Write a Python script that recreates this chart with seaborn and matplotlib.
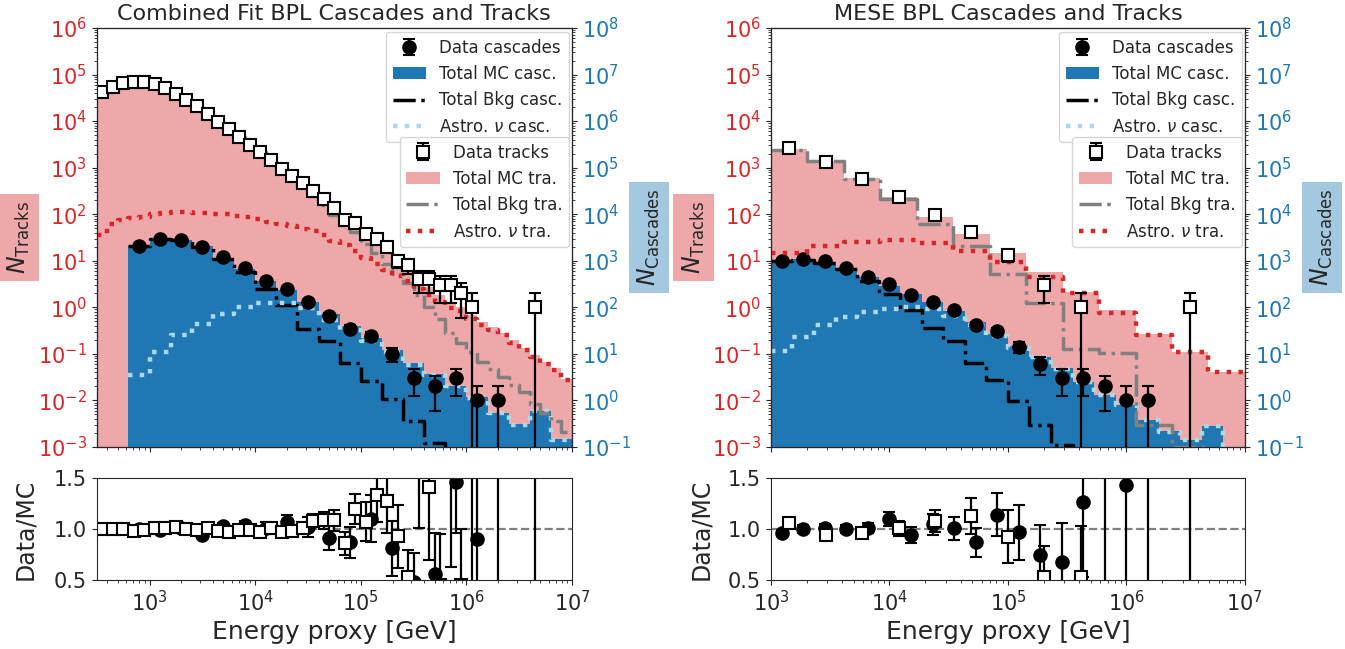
import numpy as np
import matplotlib
matplotlib.use('Agg')
import matplotlib.pyplot as plt
import seaborn as sns
from matplotlib.ticker import LogLocator, NullFormatter

sns.set_style('ticks')
plt.rcParams['font.family'] = ['DejaVu Sans']
plt.rcParams['mathtext.fontset'] = 'dejavusans'

nan = np.nan

# ---------------- values ----------------
# Left panel (combined fit): tracks in 0.1-decade bins 10^2.5..10^7,
# cascades in 0.2-decade bins 10^2.8..10^7
L_tr_edges = 10 ** np.linspace(2.5, 7.0, 46)
L_c_edges = 10 ** np.linspace(2.8, 7.0, 22)

L_tr_data = [41800, 53400, 64800, 70000, 70000, 62600, 50800, 39100, 28200, 21500,
             14100, 9660, 6660, 4580, 3100, 2140, 1460, 945, 660, 463,
             308, 212, 137, 74, 64, 37, 30, 20, 10, 8,
             4, 4, 3, 3, 2, 1, 0, 0, 0, 0,
             0, 1, 0, 0, 0]
L_tr_bkg = [41700, 53300, 64600, 71000, 71000, 61900, 50200, 38400, 28100, 21300,
            13800, 9620, 6720, 4560, 3040, 2120, 1390, 914, 617, 411,
            244, 158, 95, 64, 41, 23, 15, 8.7, 5.2, 3.3,
            1.8, 1.0, 0.55, 0.285, 0.175, 0.11, 0.067, 0.048, 0.032, 0.022,
            0.015, 0.0085, 0.0054, 0.0036, 0.0021]
L_tr_astro = [36, 63, 74, 81, 89, 99, 104, 109, 109, 106,
              104, 99, 99, 92, 89, 80, 69, 61, 56, 48,
              43, 36, 27, 22, 16, 11.5, 8.4, 6.2, 4.8, 3.6,
              2.5, 1.8, 1.3, 0.96, 0.84, 0.57, 0.42, 0.33, 0.25, 0.175,
              0.12, 0.084, 0.06, 0.045, 0.027]
L_tr_ratio = [1.00, 1.00, 1.00, 0.985, 0.99, 1.005, 1.005, 1.02, 1.00, 0.995,
              1.005, 0.985, 0.97, 0.99, 0.99, 0.97, 1.005, 0.97, 0.98, 1.005,
              1.08, 1.084, 1.084, 0.86, 1.195, 1.07, 1.33, 1.27, 0.93, 0.53,
              2.0, 1.41, 0.45, 1.9, 0.45, 1.6, nan, nan, nan, nan,
              nan, 5.0, nan, nan, nan]
L_tr_rerr = [0.01, 0.01, 0.01, 0.01, 0.01, 0.01, 0.01, 0.01, 0.01, 0.01,
             0.01, 0.012, 0.015, 0.015, 0.02, 0.025, 0.03, 0.035, 0.045, 0.05,
             0.065, 0.08, 0.10, 0.11, 0.15, 0.19, 0.26, 0.31, 0.31, 0.26,
             0.99, 0.71, 0.5, 1.27, 0.55, 1.6, 0, 0, 0, 0,
             0, 5.0, 0, 0, 0]

L_c_data = [2030, 2950, 2820, 1940, 1185, 695, 370, 248, 132, 66,
            35, 24, 10, 3, 2, 3, 1, 1, 0, 0, 0]
L_c_bkg = [2030, 2960, 2760, 2020, 1075, 564, 245, 110, 34.5, 18.8,
           6.5, 2.6, 1.06, 0.355, 0.125, 0.05, 0.02, 0.01, 0.005, 0.003, 0.001]
L_c_astro = [3.5, 11, 26, 43, 73, 103, 122, 122, 96, 54,
             33, 19.4, 11, 5.9, 3.6, 2.0, 1.14, 0.53, 0.30, 0.58, 0.145]
L_c_ratio = [1.00, 0.99, 1.01, 0.94, 1.03, 1.04, 1.01, 1.07, 1.02, 0.91,
             0.87, 1.10, 0.81, 0.48, 0.56, 1.46, 0.90, 2.0, nan, nan, nan]
L_c_rerr = [0.025, 0.02, 0.02, 0.025, 0.03, 0.04, 0.055, 0.07, 0.095, 0.12,
            0.15, 0.23, 0.27, 0.28, 0.40, 0.5, 0.9, 2.0, 0, 0, 0]

# Right panel (MESE): tracks in 13 bins, cascades in 22 bins, 10^3..10^7
R_tr_edges = 10 ** np.linspace(3.0, 7.0, 14)
R_c_edges = 10 ** np.linspace(3.0, 7.0, 23)

R_tr_data = [2600, 1315, 570, 238, 95, 42, 13, 3, 1, 0, 0, 1, 0]
R_tr_bkg = [2450, 1375, 567, 208, 63, 20.5, 5.1, 1.26, 0.13, 0.107, 0.003, 0.001, 0.0005]
R_tr_astro = [14.6, 20.8, 25.6, 28, 24.4, 16.5, 9.5, 4.5, 2.0, 0.75, 0.26, 0.11, 0.04]
R_tr_ratio = [1.054, 0.943, 0.96, 1.006, 1.076, 1.127, 0.924, 0.53, 0.53, nan, nan, 3.0, nan]
R_tr_rerr = [0.01, 0.02, 0.03, 0.07, 0.11, 0.18, 0.26, 0.30, 0.50, 0, 0, 2.95, 0]

R_c_data = [970, 1090, 970, 715, 458, 323, 180, 133, 86, 42, 31,
            14, 6, 3, 3, 2, 1, 1, 0, 0, 0, 0]
R_c_bkg = [1000, 1065, 915, 652, 370, 197, 89, 36, 19, 6.5, 2.7,
           0.97, 0.3, 0.11, 0.05, 0.025, 0.0126, 0.0063, 0.0032, 0.0016, 0.001, 0.0005]
R_c_astro = [11.5, 23, 42, 61, 79, 93, 100, 93, 65, 42, 24,
             13.6, 8.4, 4.8, 2.5, 1.3, 0.8, 0.38, 0.215, 0.14, 0.28, 0.08]
R_c_ratio = [0.96, 1.0, 1.01, 1.0, 1.01, 1.10, 0.94, 1.045, 1.006, 0.87, 1.14,
             0.97, 0.75, 0.68, 1.26, 1.6, 1.43, 2.6, nan, nan, nan, nan]
R_c_rerr = [0.03, 0.035, 0.035, 0.04, 0.05, 0.07, 0.075, 0.1, 0.11, 0.14, 0.21,
            0.27, 0.29, 0.38, 0.73, 1.13, 1.43, 2.6, 0, 0, 0, 0]

EB = dict(ecolor='k', elinewidth=1.6, capsize=4, capthick=1.6, mec='k', mew=1.5)


def step_line(ax, edges, vals, **kw):
    vals = np.asarray(vals, float)
    sns.lineplot(x=edges, y=np.append(vals, vals[-1]), drawstyle='steps-post',
                 estimator=None, legend=False, ax=ax, **kw)
    return ax.lines[-1]


def centers(edges):
    return np.sqrt(edges[:-1] * edges[1:])


def counts(v):
    v = np.asarray(v, float)
    v[v == 0] = nan
    return v


def log_ticks(axis):
    axis.set_major_locator(LogLocator(base=10, numticks=20))
    axis.set_minor_locator(LogLocator(base=10, subs=np.arange(2, 10), numticks=100))
    axis.set_minor_formatter(NullFormatter())


def panel(ax, axr, title, xlo, tr_edges, tr_data, tr_bkg, tr_astro, tr_ratio, tr_rerr,
          c_edges, c_data, c_bkg, c_astro, c_ratio, c_rerr, rlab_x):
    axc = ax.twinx()   # cascade scale (right)
    axt = ax.twinx()   # top layer for track lines / data on the track scale
    for a in (ax, axc, axt):
        a.set_xscale('log')
        a.set_yscale('log')

    tr_tot = np.asarray(tr_bkg) + np.asarray(tr_astro)
    c_tot = np.asarray(c_bkg) + np.asarray(c_astro)

    h_tmc = ax.stairs(tr_tot, tr_edges, fill=True, color='tab:red', alpha=0.4,
                      baseline=1e-9, lw=0)
    h_cmc = axc.stairs(c_tot, c_edges, fill=True, color='tab:blue',
                       baseline=1e-9, lw=0)
    h_cbkg = step_line(axc, c_edges, c_bkg, color='k', linestyle='-.', lw=2.5)
    h_cast = step_line(axc, c_edges, c_astro, color='lightblue', linestyle=':', lw=3.2)
    h_cd = axc.errorbar(centers(c_edges), counts(c_data), yerr=np.sqrt(counts(c_data)),
                        fmt='o', ms=9, mfc='k', color='k', **EB)

    h_tbkg = step_line(axt, tr_edges, tr_bkg, color='gray', linestyle='-.', lw=2.5)
    h_tast = step_line(axt, tr_edges, tr_astro, color='tab:red', linestyle=':', lw=3.2)
    h_td = axt.errorbar(centers(tr_edges), counts(tr_data), yerr=np.sqrt(counts(tr_data)),
                        fmt='s', ms=8, mfc='white', color='k', **EB)

    ax.set_xlim(10 ** xlo, 1e7)
    ax.set_ylim(1e-3, 1e6)
    axt.set_ylim(1e-3, 1e6)
    axc.set_ylim(1e-1, 1e8)
    axt.yaxis.set_visible(False)

    log_ticks(ax.xaxis)
    log_ticks(ax.yaxis)
    log_ticks(axc.yaxis)
    ax.tick_params(axis='x', labelbottom=False)
    ax.tick_params(axis='y', labelcolor='tab:red', labelsize=15)
    axc.tick_params(axis='y', labelcolor='tab:blue', labelsize=15)

    ax.set_ylabel(r'$N_{\mathrm{Tracks}}$', fontsize=17,
                  bbox=dict(facecolor='tab:red', alpha=0.4, edgecolor='none', boxstyle='square,pad=0.3'))
    axc.set_ylabel(r'$N_{\mathrm{Cascades}}$', fontsize=17,
                   bbox=dict(facecolor='tab:blue', alpha=0.4, edgecolor='none', boxstyle='square,pad=0.3'))
    ax.set_title(title, fontsize=16)

    leg1 = axt.legend([h_cd, h_cmc, h_cbkg, h_cast],
                      ['Data cascades', 'Total MC casc.', 'Total Bkg casc.', r'Astro. $\nu$ casc.'],
                      loc='upper right', bbox_to_anchor=(0.994, 0.990), borderaxespad=0, fontsize=12)
    axt.add_artist(leg1)
    axt.legend([h_td, h_tmc, h_tbkg, h_tast],
               ['Data tracks', 'Total MC tra.', 'Total Bkg tra.', r'Astro. $\nu$ tra.'],
               loc='upper right', bbox_to_anchor=(0.994, 0.740), borderaxespad=0, fontsize=12)

    # ratio panel
    axr.set_xscale('log')
    axr.axhline(1.0, color='gray', linestyle='--', lw=1.6)
    axr.errorbar(centers(c_edges), c_ratio, yerr=c_rerr, fmt='o', ms=9, mfc='k', color='k', **EB)
    axr.errorbar(centers(tr_edges), tr_ratio, yerr=tr_rerr, fmt='s', ms=8, mfc='white', color='k', **EB)
    axr.set_xlim(10 ** xlo, 1e7)
    axr.set_ylim(0.5, 1.5)
    axr.set_yticks([0.5, 1.0, 1.5])
    log_ticks(axr.xaxis)
    axr.tick_params(labelsize=15)
    axr.set_xlabel('Energy proxy [GeV]', fontsize=18)
    axr.set_ylabel('Data/MC', fontsize=17)
    axr.yaxis.set_label_coords(rlab_x, 0.5)


fig = plt.figure(figsize=(13.45, 6.49), dpi=100)
axL = fig.add_axes([0.0719, 0.3112, 0.3534, 0.6457])
axLr = fig.add_axes([0.0719, 0.1063, 0.3534, 0.1572])
axR = fig.add_axes([0.5732, 0.3112, 0.3524, 0.6457])
axRr = fig.add_axes([0.5732, 0.1063, 0.3524, 0.1572])

panel(axL, axLr, 'Combined Fit BPL Cascades and Tracks', 2.5,
      L_tr_edges, L_tr_data, L_tr_bkg, L_tr_astro, L_tr_ratio, L_tr_rerr,
      L_c_edges, L_c_data, L_c_bkg, L_c_astro, L_c_ratio, L_c_rerr, -0.126)
panel(axR, axRr, 'MESE BPL Cascades and Tracks', 3.0,
      R_tr_edges, R_tr_data, R_tr_bkg, R_tr_astro, R_tr_ratio, R_tr_rerr,
      R_c_edges, R_c_data, R_c_bkg, R_c_astro, R_c_ratio, R_c_rerr, -0.122)

fig.savefig('out.png', dpi=100)
